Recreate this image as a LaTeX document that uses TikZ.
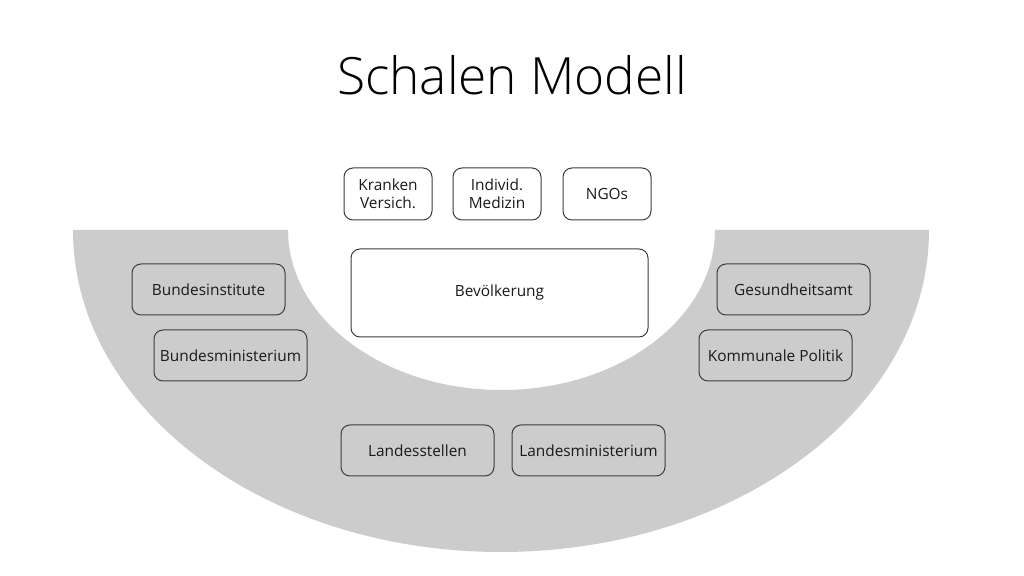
\documentclass[tikz,border=0pt]{standalone}
\usepackage{fontspec}
\setmainfont{Open Sans}
\newfontfamily\titlefont{Open Sans Light}
\definecolor{shellgray}{HTML}{CCCCCC}
\definecolor{boxline}{HTML}{3C3C3C}
\definecolor{textdark}{HTML}{1A1A1A}
\tikzset{
    box/.style={draw=boxline,line width=0.5pt,rounded corners=4.5pt,
        minimum width=76.5pt,minimum height=25.5pt,inner sep=1pt,
        font=\fontsize{7.7}{9.2}\selectfont,text=textdark,align=center},
    topbox/.style={box,fill=white,minimum width=44pt,minimum height=26pt}
}
\begin{document}
\begin{tikzpicture}[x=0.5pt,y=-0.5pt]
    \useasboundingbox[fill=white] (0,0) rectangle (1024,576);

    % shell
    \fill[shellgray] (73,230) arc[start angle=180,end angle=0,x radius=428,y radius=322]
        -- (715,230) arc[start angle=0,end angle=180,x radius=213.5,y radius=160] -- cycle;

    \node[font=\titlefont\fontsize{25.7}{30}\selectfont,anchor=base] (title) at (512,95) {Schalen Modell};

    \node[topbox] (kranken) at (388,194) {Kranken\\Versich.};
    \node[topbox] (medizin) at (497,194) {Individ.\\Medizin};
    \node[topbox] (ngos)    at (607,194) {NGOs};
    \node[box,fill=white,minimum width=148.5pt,minimum height=44pt] (bevoelk) at (499.5,293) {\raisebox{-1pt}{Bevölkerung}};

    \node[box] (bund_inst) at (208.5,289.5) {Bundesinstitute};
    \node[box] (bund_min)  at (230.5,355.5) {Bundesministerium};
    \node[box] (ges_amt)   at (793.5,289.5) {Gesundheitsamt};
    \node[box] (komm_pol)  at (775.5,355.5) {Kommunale Politik};
    \node[box] (land_st)   at (417.5,450.5) {Landesstellen};
    \node[box] (land_min)  at (588.5,450.5) {Landesministerium};
\end{tikzpicture}
\end{document}
